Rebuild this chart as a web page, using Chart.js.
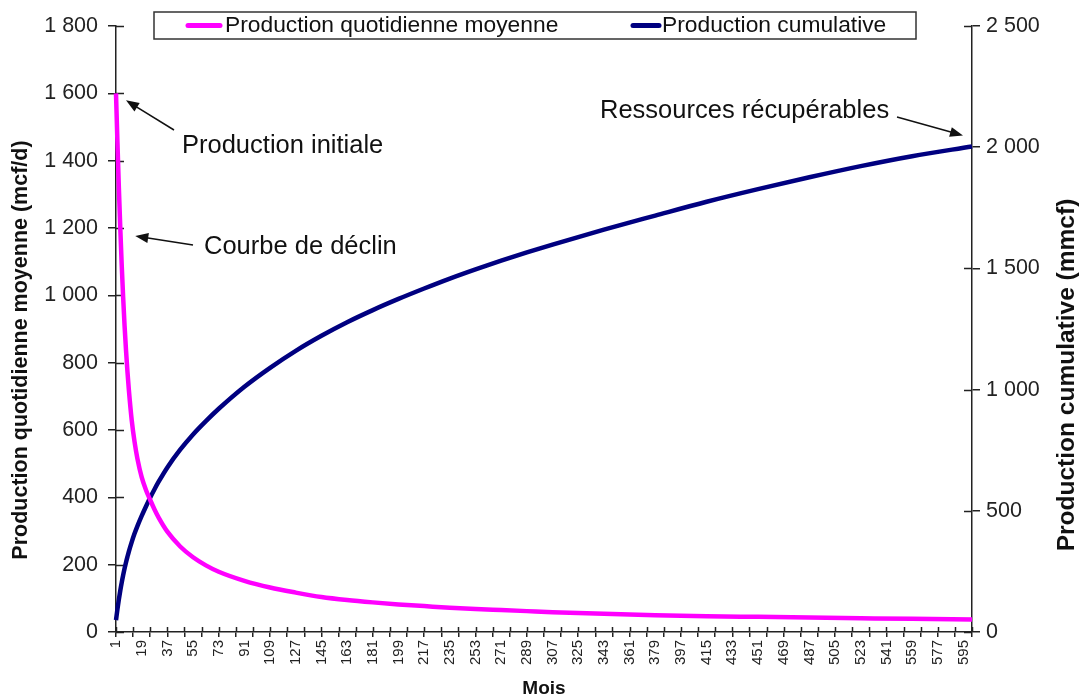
<!DOCTYPE html>
<html>
<head>
<meta charset="utf-8">
<script src="https://cdn.jsdelivr.net/npm/chart.js@4.4.0/dist/chart.umd.min.js"></script>
<style>
  html, body { margin: 0; padding: 0; background: #fff; }
  #wrap { width: 1080px; height: 698px; position: relative; }
</style>
</head>
<body>
<div id="wrap"><canvas id="declineChart"></canvas></div>
<script>
// values (month, mcf/d, mmcf)
var months = [1, 2, 3, 4, 5, 6, 7, 8, 9, 10, 12, 14, 16, 19, 22, 25, 28, 31, 37, 46, 55, 64, 73,
  91, 109, 127, 145, 163, 181, 199, 217, 235, 253, 271, 289, 307, 343, 379, 415, 451, 487, 523, 559, 601];
var dailyProd = [1600, 1455, 1320, 1200, 1090, 995, 910, 838, 775, 720, 630, 565, 515, 460, 422, 392, 364, 339, 298, 254, 222, 198, 179,
  152, 132, 117, 104, 95, 88, 82, 77, 72, 68, 65, 62, 59, 54, 50, 47, 45, 43, 41, 39, 37];
var cumulProd = [49, 94, 134, 171, 204, 234, 262, 287, 310, 332, 371, 406, 437, 479, 518, 555, 589, 621, 679, 752, 815, 870, 921,
  1012, 1090, 1160, 1222, 1278, 1328, 1374, 1417, 1458, 1496, 1532, 1566, 1598, 1660, 1718, 1775, 1827, 1876, 1922, 1963, 2003];

var monthLabels = [1, 19, 37, 55, 73, 91, 109, 127, 145, 163, 181, 199, 217, 235, 253, 271, 289,
  307, 325, 343, 361, 379, 397, 415, 433, 451, 469, 487, 505, 523, 541, 559, 577, 595];
var leftTicks = [0, 200, 400, 600, 800, 1000, 1200, 1400, 1600, 1800];
var rightTicks = [0, 500, 1000, 1500, 2000, 2500];

// tick marks every 12 months, labels every 18
var monthMarks = [];
for (var m = 1; m <= 601; m += 12) monthMarks.push(m);

var PINK = "#ff00ff";
var NAVY = "#000080";
var AXIS = "#222";
var FONT = "'Liberation Sans', Arial, sans-serif";

Chart.defaults.font.family = FONT;
Chart.defaults.color = AXIS;

function spaced(v) {
  return String(v).replace(/\B(?=(\d{3})+(?!\d))/g, " ");
}

function xy(ys) {
  return months.map(function (mo, i) { return { x: mo, y: ys[i] }; });
}

function arrow(c, x1, y1, x2, y2) {
  var a = Math.atan2(y2 - y1, x2 - x1);
  c.beginPath();
  c.moveTo(x1, y1);
  c.lineTo(x2 - 8 * Math.cos(a), y2 - 8 * Math.sin(a));
  c.stroke();
  c.beginPath();
  c.moveTo(x2, y2);
  c.lineTo(x2 - 13 * Math.cos(a) + 5 * Math.sin(a), y2 - 13 * Math.sin(a) - 5 * Math.cos(a));
  c.lineTo(x2 - 13 * Math.cos(a) - 5 * Math.sin(a), y2 - 13 * Math.sin(a) + 5 * Math.cos(a));
  c.closePath();
  c.fill();
}

var decor = {
  id: "decor",
  beforeDatasetsDraw: function (chart) {
    // inner half of the crossing tick marks
    var c = chart.ctx, a = chart.chartArea;
    var sx = chart.scales.x, sl = chart.scales.y, sr = chart.scales.y2;
    c.save();
    c.strokeStyle = AXIS;
    c.lineWidth = 1.5;
    c.beginPath();
    leftTicks.forEach(function (v) {
      var y = Math.round(sl.getPixelForValue(v)) + 0.5;
      c.moveTo(a.left, y); c.lineTo(a.left + 8, y);
    });
    rightTicks.forEach(function (v) {
      var y = Math.round(sr.getPixelForValue(v)) + 0.5;
      c.moveTo(a.right, y); c.lineTo(a.right - 8, y);
    });
    monthMarks.forEach(function (v) {
      var x = Math.round(sx.getPixelForValue(v)) + 0.5;
      c.moveTo(x, a.bottom); c.lineTo(x, a.bottom - 5);
    });
    c.stroke();
    c.restore();
  },
  afterDraw: function (chart) {
    var c = chart.ctx;
    var sx = chart.scales.x, sl = chart.scales.y, sr = chart.scales.y2;
    c.save();
    c.fillStyle = "#111";
    c.strokeStyle = "#111";
    c.lineWidth = 1.5;

    // axis titles
    c.textAlign = "center";
    c.textBaseline = "middle";
    c.font = "bold 21.5px " + FONT;
    c.save();
    c.translate(21, 350);
    c.rotate(-Math.PI / 2);
    c.fillText("Production quotidienne moyenne (mcf/d)", 0, 0);
    c.restore();
    c.font = "bold 24.5px " + FONT;
    c.save();
    c.translate(1067, 375);
    c.rotate(-Math.PI / 2);
    c.fillText("Production cumulative (mmcf)", 0, 0);
    c.restore();
    c.font = "bold 19px " + FONT;
    c.fillText("Mois", (chart.chartArea.left + chart.chartArea.right) / 2, 689);

    // legend
    c.fillStyle = "#fff";
    c.fillRect(154, 12, 762, 27);
    c.strokeStyle = "#333";
    c.lineWidth = 1.5;
    c.strokeRect(154, 12, 762, 27);
    c.lineCap = "round";
    c.lineWidth = 5;
    c.strokeStyle = PINK;
    c.beginPath(); c.moveTo(188, 25.5); c.lineTo(220, 25.5); c.stroke();
    c.strokeStyle = NAVY;
    c.beginPath(); c.moveTo(633, 25.5); c.lineTo(659, 25.5); c.stroke();
    c.lineCap = "butt";
    c.fillStyle = "#111";
    c.textAlign = "left";
    c.font = "22.8px " + FONT;
    c.fillText("Production quotidienne moyenne", 225, 26);
    c.fillText("Production cumulative", 662, 26);

    // annotations
    c.font = "25.5px " + FONT;
    c.fillText("Production initiale", 182, 146);
    c.fillText("Courbe de d\u00e9clin", 204, 247);
    c.fillText("Ressources r\u00e9cup\u00e9rables", 600, 111);
    c.strokeStyle = "#111";
    c.lineWidth = 1.5;
    var p0x = sx.getPixelForValue(months[0]), p0y = sl.getPixelForValue(dailyProd[0]);
    arrow(c, 174, 130, p0x + 10, p0y + 7);
    arrow(c, 193, 245, sx.getPixelForValue(months[3]) + 15, sl.getPixelForValue(dailyProd[3]) + 8);
    var pe = months.length - 1;
    arrow(c, 897, 117, sx.getPixelForValue(months[pe]) - 9, sr.getPixelForValue(cumulProd[pe]) - 11);
    c.restore();
  }
};

new Chart(document.getElementById("declineChart"), {
  type: "line",
  data: {
    datasets: [
      {
        label: "Production quotidienne moyenne",
        data: xy(dailyProd),
        yAxisID: "y",
        borderColor: PINK,
        backgroundColor: PINK,
        borderWidth: 4.5,
        pointRadius: 0,
        cubicInterpolationMode: "monotone",
        clip: false
      },
      {
        label: "Production cumulative",
        data: xy(cumulProd),
        yAxisID: "y2",
        borderColor: NAVY,
        backgroundColor: NAVY,
        borderWidth: 4.5,
        pointRadius: 0,
        cubicInterpolationMode: "monotone",
        clip: false
      }
    ]
  },
  options: {
    responsive: true,
    maintainAspectRatio: false,
    animation: false,
    layout: { padding: { top: 26, left: 0, right: 0, bottom: 0 } },
    plugins: {
      legend: { display: false },
      tooltip: { enabled: false }
    },
    scales: {
      x: {
        type: "linear",
        min: 1,
        max: 601,
        afterBuildTicks: function (scale) {
          var all = monthMarks.concat(monthLabels.filter(function (v) { return monthMarks.indexOf(v) < 0; }));
          all.sort(function (a, b) { return a - b; });
          scale.ticks = all.map(function (v) { return { value: v }; });
        },
        afterFit: function (scale) { scale.height = 66; },
        ticks: {
          autoSkip: false,
          minRotation: 90,
          maxRotation: 90,
          padding: 3,
          color: AXIS,
          font: { size: 15 },
          callback: function (v) { return monthLabels.indexOf(v) >= 0 ? String(v) : ""; }
        },
        grid: {
          drawOnChartArea: false,
          tickLength: 5,
          lineWidth: 1.5,
          color: function (ctx) {
            return ctx.tick && monthMarks.indexOf(ctx.tick.value) >= 0 ? AXIS : "rgba(0,0,0,0)";
          }
        },
        border: { color: AXIS, width: 1.5 }
      },
      y: {
        position: "left",
        min: 0,
        max: 1800,
        afterBuildTicks: function (scale) {
          scale.ticks = leftTicks.map(function (v) { return { value: v }; });
        },
        afterFit: function (scale) { scale.width = 116; },
        ticks: {
          padding: 10,
          color: AXIS,
          font: { size: 21.5 },
          callback: function (v) { return spaced(v); }
        },
        grid: { drawOnChartArea: false, tickLength: 8, color: AXIS, lineWidth: 1.5 },
        border: { color: AXIS, width: 1.5 }
      },
      y2: {
        position: "right",
        min: 0,
        max: 2500,
        afterBuildTicks: function (scale) {
          scale.ticks = rightTicks.map(function (v) { return { value: v }; });
        },
        afterFit: function (scale) { scale.width = 108; },
        ticks: {
          padding: 6,
          color: AXIS,
          font: { size: 21.5 },
          callback: function (v) { return spaced(v); }
        },
        grid: { drawOnChartArea: false, tickLength: 8, color: AXIS, lineWidth: 1.5 },
        border: { color: AXIS, width: 1.5 }
      }
    }
  },
  plugins: [decor]
});
</script>
</body>
</html>
